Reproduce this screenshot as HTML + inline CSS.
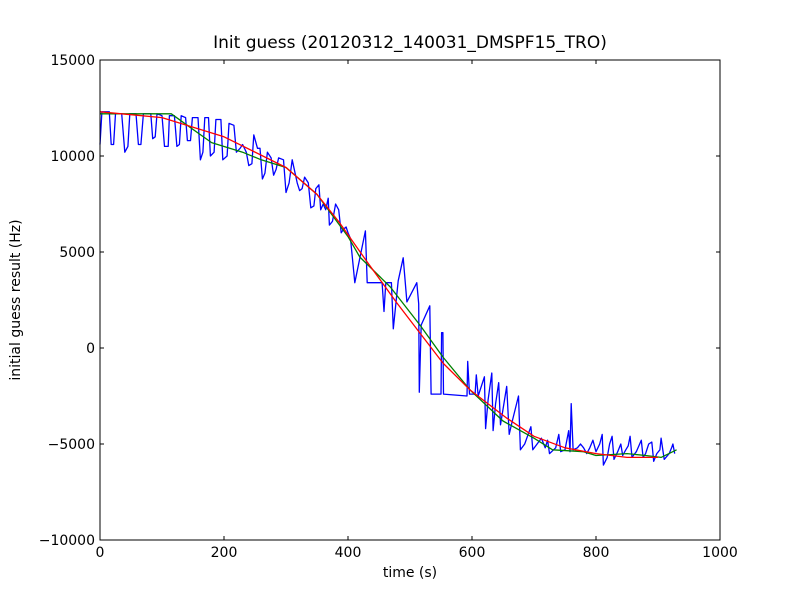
<!DOCTYPE html>
<html><head><meta charset="utf-8"><style>
body{margin:0;background:#fff;}
svg text{font-family:"DejaVu Sans","Liberation Sans",sans-serif;}
</style></head><body>
<svg id="chart" width="800" height="600" xmlns="http://www.w3.org/2000/svg">
<rect x="0" y="0" width="800" height="600" fill="#fff"/>
<text x="410" y="48" font-size="17" text-anchor="middle">Init guess (20120312_140031_DMSPF15_TRO)</text>
<text x="410" y="577" font-size="14" text-anchor="middle">time (s)</text>
<text x="20" y="300" font-size="14" text-anchor="middle" transform="rotate(-90 20 300)">initial guess result (Hz)</text>
<g id="series"></g>
<g id="axes"></g>
</svg>
<script>
const xTicks=[0,200,400,600,800,1000];
const yTicks=[-10000,-5000,0,5000,10000,15000];
const blueT=[0,3,15,18,22,25,35,40,45,48,58,62,66,70,82,85,89,92,100,104,110,112,120,124,128,131,138,141,146,149,158,162,166,169,175,178,184,187,195,198,205,208,216,220,226,230,236,240,245,248,254,258,262,266,270,276,280,284,288,296,300,305,310,318,322,326,330,336,340,345,348,353,356,360,364,368,370,375,380,385,389,393,397,400,404,411,428,431,455,458,461,470,473,481,489,495,511,514,515,518,532,534,550,551,553,554,592,593,596,605,607,610,620,622,626,632,634,638,643,646,650,656,660,665,675,678,685,695,698,705,712,718,722,725,735,740,743,750,756,758,760,763,770,775,780,785,790,795,800,806,810,812,818,822,826,829,835,840,843,848,852,855,858,865,873,876,880,885,890,893,898,903,905,910,918,922,924,927];
const blueF=[10600,12300,12300,10600,10600,12200,12200,10200,10500,12200,12200,10600,10600,12200,12200,10900,11000,12200,12100,10500,10500,12100,12100,10500,10600,12100,12000,10800,10800,12000,12000,9800,10200,12000,12000,10000,10200,11900,11900,9800,10000,11700,11600,10200,10400,10600,10200,9500,9600,11100,10400,10400,8800,9100,10200,9900,9000,9300,9900,9800,8100,8600,9800,8600,8200,8300,8900,8600,7300,7400,8300,8500,7200,7500,7200,7800,6400,6600,7500,7200,6000,6200,6300,6000,5700,3400,6100,3400,3400,1900,3400,3400,1000,3500,4700,2400,3400,2300,-2300,1200,2200,-2400,-2400,800,800,-2400,-2500,-700,-2400,-2400,-1400,-2500,-1500,-4200,-2700,-1300,-4300,-2900,-1800,-4000,-3200,-2000,-4500,-3800,-2500,-5300,-5000,-4100,-5300,-5000,-4700,-5200,-4800,-5500,-5200,-4500,-5400,-5300,-4300,-5400,-2900,-5300,-5200,-5000,-5200,-5500,-5200,-4800,-5400,-5000,-4500,-6100,-5700,-5000,-4600,-5800,-5400,-5000,-5600,-5300,-5100,-4600,-5700,-5400,-4800,-5700,-5500,-5000,-4900,-5900,-5500,-5300,-4700,-5800,-5500,-5200,-5000,-5500];
const greenT=[0,115,145,180,230,260,300,350,400,419,468,516,553,597,650,700,730,780,800,850,880,905,930];
const greenF=[12200,12200,11500,10700,10200,9800,9400,8000,5800,4740,3180,1200,-470,-2190,-3800,-4700,-5300,-5400,-5600,-5500,-5600,-5700,-5300];
const redT=[0,100,200,300,350,387,431,479,516,553,597,656,700,750,800,850,900];
const redF=[12300,12000,11000,9400,8000,6500,4480,2340,780,-780,-2190,-3650,-4600,-5200,-5500,-5700,-5700];

const L=100,R=720,T=60,B=540;
const sx=t=>L+(t-0)/(1000-0)*(R-L);
const sy=f=>B-(f+10000)/25000*(B-T);
const NS='http://www.w3.org/2000/svg';
const sg=document.getElementById('series');
function line(ts,fs,color,name){
  const p=document.createElementNS(NS,'polyline');
  p.setAttribute('points',ts.map((t,i)=>sx(t).toFixed(1)+','+sy(fs[i]).toFixed(1)).join(' '));
  p.setAttribute('fill','none');p.setAttribute('stroke',color);p.setAttribute('stroke-width','1.3');
  p.setAttribute('stroke-linejoin','round');
  
  
  sg.appendChild(p);
}
line(blueT,blueF,'#0000ff','blue-series-line');
line(greenT,greenF,'#008000','green-series-line');
line(redT,redF,'#ff0000','red-series-line');

const ag=document.getElementById('axes');
const fr=document.createElementNS(NS,'rect');
fr.setAttribute('x',L);fr.setAttribute('y',T);fr.setAttribute('width',R-L);fr.setAttribute('height',B-T);
fr.setAttribute('fill','none');fr.setAttribute('stroke','#000');fr.setAttribute('stroke-width','1');


ag.appendChild(fr);
function tick(x1,y1,x2,y2){
  const l=document.createElementNS(NS,'line');
  l.setAttribute('x1',x1);l.setAttribute('y1',y1);l.setAttribute('x2',x2);l.setAttribute('y2',y2);
  l.setAttribute('stroke','#000');
  
  
  ag.appendChild(l);
}
function label(x,y,s,anchor,name){
  const t=document.createElementNS(NS,'text');
  t.setAttribute('x',x);t.setAttribute('y',y);t.setAttribute('font-size','14');t.setAttribute('text-anchor',anchor);
  t.textContent=s;
  
  
  ag.appendChild(t);
}
xTicks.forEach(v=>{const x=sx(v);tick(x,B,x,B-4);tick(x,T,x,T+4);label(x,B+17,String(v),'middle','x-tick-label');});
yTicks.forEach(v=>{const y=sy(v);tick(L,y,L+4,y);tick(R,y,R-4,y);label(L-5,y+5,(v<0?'\u2212'+(-v):String(v)),'end','y-tick-label');});
</script>
</body></html>
